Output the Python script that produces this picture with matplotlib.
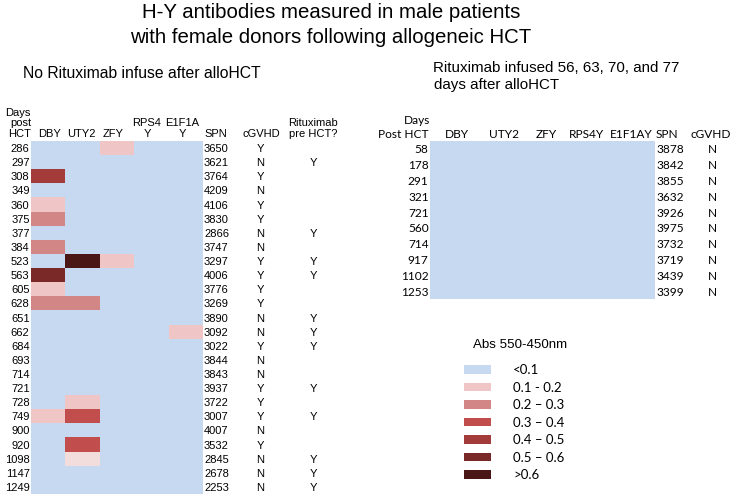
import numpy as np
import matplotlib
matplotlib.use("Agg")
import matplotlib.pyplot as plt
from matplotlib.colors import ListedColormap
from matplotlib.patches import Patch
from matplotlib import transforms as mtrans

plt.rcParams["font.family"] = ["Liberation Sans", "DejaVu Sans"]
CAL = ["Lato", "DejaVu Sans"]

W, H = 733, 499

# --- data: left panel (no rituximab after alloHCT) ---
genes = ["DBY", "UTY2", "ZFY", "RPS4Y", "E1F1AY"]
days_left = [286, 297, 308, 349, 360, 375, 377, 384, 523, 563, 605, 628, 651,
             662, 684, 693, 714, 721, 728, 749, 900, 920, 1098, 1147, 1249]
# absorbance class per cell: 0 <0.1, 1 faint, 2 0.1-0.2, 3 0.2-0.3,
# 4 0.3-0.4, 5 0.4-0.5, 6 0.5-0.6, 7 >0.6
abs_left = np.array([
    [0, 0, 2, 0, 0],
    [0, 0, 0, 0, 0],
    [5, 0, 0, 0, 0],
    [0, 0, 0, 0, 0],
    [2, 0, 0, 0, 0],
    [3, 0, 0, 0, 0],
    [0, 0, 0, 0, 0],
    [3, 0, 0, 0, 0],
    [0, 7, 2, 0, 0],
    [6, 0, 0, 0, 0],
    [2, 0, 0, 0, 0],
    [3, 3, 0, 0, 0],
    [0, 0, 0, 0, 0],
    [0, 0, 0, 0, 2],
    [0, 0, 0, 0, 0],
    [0, 0, 0, 0, 0],
    [0, 0, 0, 0, 0],
    [0, 0, 0, 0, 0],
    [0, 2, 0, 0, 0],
    [2, 4, 0, 0, 0],
    [0, 0, 0, 0, 0],
    [0, 4, 0, 0, 0],
    [0, 1, 0, 0, 0],
    [0, 0, 0, 0, 0],
    [0, 0, 0, 0, 0],
])
spn_left = [3650, 3621, 3764, 4209, 4106, 3830, 2866, 3747, 3297, 4006, 3776,
            3269, 3890, 3092, 3022, 3844, 3843, 3937, 3722, 3007, 4007, 3532,
            2845, 2678, 2253]
cgvhd_left = ["Y", "N", "Y", "N", "Y", "Y", "N", "N", "Y", "Y", "Y", "Y", "N",
              "N", "Y", "N", "N", "Y", "Y", "Y", "N", "Y", "N", "N", "N"]
ritux_pre = ["", "Y", "", "", "", "", "Y", "", "Y", "Y", "", "", "Y", "Y", "Y",
             "", "", "Y", "", "Y", "", "", "Y", "Y", "Y"]

# --- data: right panel (rituximab infused after alloHCT) ---
days_right = [58, 178, 291, 321, 721, 560, 714, 917, 1102, 1253]
abs_right = np.zeros((10, 5), dtype=int)
spn_right = [3878, 3842, 3855, 3632, 3926, 3975, 3732, 3719, 3439, 3399]
cgvhd_right = ["N"] * 10

colours = ["#C6D9F0", "#F3DCDC", "#EFC5C5", "#D38686", "#C14D4D",
           "#A43B3B", "#7A2828", "#4B1616"]
legend_labels = ["<0.1", "0.1 - 0.2", "0.2 \u2013 0.3", "0.3 \u2013 0.4",
                 "0.4 \u2013 0.5", "0.5 \u2013 0.6", ">0.6"]
legend_classes = [0, 2, 3, 4, 5, 6, 7]

cmap = ListedColormap(colours)


def fx(px):
    return px / W


def fy(py):
    return 1 - py / H


def box(x0, y0, x1, y1):
    return [fx(x0), fy(y1), fx(x1) - fx(x0), fy(y0) - fy(y1)]


fig = plt.figure(figsize=(W / 100, H / 100), dpi=100)


def ftxt(x, y, s, **kw):
    kw.setdefault("va", "baseline")
    kw.setdefault("fontsize", 8)
    fig.text(fx(x), fy(y), s, **kw)


# titles
ftxt(331, 18.3, "H-Y antibodies measured in male patients", ha="center", fontsize=14.7)
ftxt(331, 43.3, "with female donors following allogeneic HCT", ha="center", fontsize=14.7)
ftxt(22.7, 77.7, "No Rituximab infuse after alloHCT", ha="left", fontsize=11.3)
ftxt(433, 71.7, "Rituximab infused 56, 63, 70, and 77", ha="left", fontsize=10.9)
ftxt(434, 89.3, "days after alloHCT", ha="left", fontsize=10.9)


def heat(ax, data):
    ax.imshow(data, cmap=cmap, vmin=-0.5, vmax=len(colours) - 0.5,
              aspect="auto", interpolation="nearest")
    ax.set_xticks([])
    ax.tick_params(axis="y", length=0, pad=1, labelsize=8)
    for s in ax.spines.values():
        s.set_visible(False)


# --- left panel ---
axL = fig.add_axes(box(31, 141, 203, 494))
heat(axL, abs_left)
axL.set_yticks(np.arange(len(days_left)), labels=days_left)

tL = mtrans.blended_transform_factory(fig.transFigure, axL.transData)
for i, (s, c, r) in enumerate(zip(spn_left, cgvhd_left, ritux_pre)):
    axL.text(fx(204), i, str(s), transform=tL, ha="left", va="center_baseline", fontsize=8)
    axL.text(fx(260.5), i, c, transform=tL, ha="center", va="center_baseline", fontsize=8)
    if r:
        axL.text(fx(313.3), i, r, transform=tL, ha="center", va="center_baseline", fontsize=8)

ftxt(31, 116, "Days", ha="right")
ftxt(31, 125.5, "post", ha="right")
ftxt(31, 136.7, "HCT", ha="right")
left_heads = ["DBY", "UTY2", "ZFY", "RPS4\nY", "E1F1A\nY", "SPN", "cGVHD", "Rituximab\npre HCT?"]
left_head_x = [50, 81, 113, 147, 182, 216, 261, 313.3]
for name, x in zip(left_heads, left_head_x):
    lines = name.split("\n")
    for k, line in enumerate(reversed(lines)):
        ftxt(x, 136.7 - 11.2 * k, line, ha="center")

# --- right panel ---
axR = fig.add_axes(box(430, 141, 655, 299))
heat(axR, abs_right)
axR.set_yticks(np.arange(len(days_right)), labels=days_right)
for tl in axR.get_yticklabels():
    tl.set_family(CAL)
    tl.set_fontsize(8.6)

tR = mtrans.blended_transform_factory(fig.transFigure, axR.transData)
for i, (s, c) in enumerate(zip(spn_right, cgvhd_right)):
    axR.text(fx(656), i, str(s), transform=tR, ha="left", va="center_baseline",
             fontsize=8.6, family=CAL)
    axR.text(fx(712), i, c, transform=tR, ha="center", va="center_baseline",
             fontsize=8.6, family=CAL)

ftxt(416.7, 124.3, "Days", ha="center", family=CAL, fontsize=8.6)
ftxt(429, 138.3, "Post HCT", ha="right", family=CAL, fontsize=8.6)
right_heads = genes + ["SPN"]
right_head_x = [457, 504, 546, 586, 631, 667]
for name, x in zip(right_heads, right_head_x):
    ftxt(x, 138.3, name, ha="center", family=CAL, fontsize=8.6)
ftxt(731, 138.3, "cGVHD", ha="right", family=CAL, fontsize=8.6)

# --- legend ---
ftxt(520, 348.3, "Abs 550-450nm", ha="center", fontsize=9.6)
handles = [Patch(facecolor=colours[k], edgecolor="none") for k in legend_classes]
fig.legend(handles, legend_labels, loc="upper left",
           bbox_to_anchor=(fx(464), fy(364)), frameon=False,
           borderpad=0, borderaxespad=0, handlelength=2.05, handleheight=0.6,
           handletextpad=1.67, labelspacing=0.42,
           prop={"family": CAL, "size": 9.5})

fig.savefig("out.png", dpi=100)
